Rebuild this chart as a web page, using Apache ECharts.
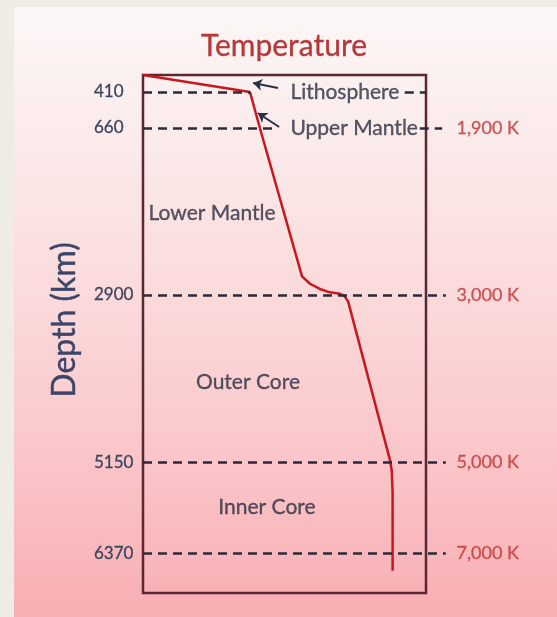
<!DOCTYPE html>
<html>
<head>
<meta charset="utf-8">
<title>Temperature</title>
<script src="https://cdn.jsdelivr.net/npm/echarts@6.0.0/dist/echarts.min.js"></script>
<style>
  html, body { margin: 0; padding: 0; background: #efece6; }
  #chart { width: 557px; height: 617px; }
</style>
</head>
<body>
<div id="chart"></div>
<script>
// temperature curve: relative temperature (0 = left side of the box, 100 = right side) vs depth (km)
const curveTemp = [0, 37.8, 41.3, 56.2, 59.0, 62.5, 66.0, 69.6, 71.2, 72.5, 87.3, 87.9, 88.2, 88.2];
const curveDepth = [0, 410, 660, 2650, 2750, 2820, 2865, 2885, 2915, 2990, 5120, 5260, 5550, 6600];

// layer boundaries (km) and the temperatures written next to them
const boundaryDepths = [410, 660, 2900, 5150, 6370];
const tempLabels = ['1,900 K', '3,000 K', '5,000 K', '7,000 K'];
const tempLabelDepths = [660, 2900, 5150, 6370];

const layerNames = ['Lithosphere', 'Upper Mantle', 'Lower Mantle', 'Outer Core', 'Inner Core'];

// the drawing is schematic: the depth axis is split into three linear bands
const bands = [
    { top: 75, height: 17, min: 0, max: 410 },
    { top: 92, height: 36, min: 410, max: 660 },
    { top: 128, height: 465, min: 660, max: 6900 }
];
const boxLeft = 143;
const boxWidth = 283;
// bands reach past the box so the dashes and temperatures can run outside it
const bandMax = 140;

// where the layer names sit, in chart units [temp, depth]
const layerAnchors = [[51.9, 410], [51.9, 660], [24.4, 1800], [37.1, 4070], [43.8, 5745]];
const layerAlign = ['right', 'right', 'inside', 'inside', 'inside'];

// dashed boundary pieces that are broken by a label
const dashSpans = {
    410: [[0, 38], [92.5, 100]],
    660: [[0, 46], [97.8, 105.7]]
};
const arrows = [
    { band: 0, from: [47.7, 313], to: [38.9, 193] },
    { band: 1, from: [48.1, 653], to: [40.6, 556] }
];

const inkColor = '#2c3042';
const redColor = '#bf3838';
const dashStyle = { color: '#2a2a3a', width: 2.6, type: [9, 6] };

const chart = echarts.init(document.getElementById('chart'));

const bandOf = (d) => bands.findIndex(b => d >= b.min && d < b.max);

const grids = bands.map(b => ({
    left: boxLeft, top: b.top, width: boxWidth * bandMax / 100, height: b.height
}));
grids.push({
    left: boxLeft, top: 75, width: boxWidth, height: 518,
    show: true, borderColor: '#5b2733', borderWidth: 2.5
});

const xAxes = grids.map((g, i) => ({
    type: 'value', gridIndex: i, min: 0, max: i < bands.length ? bandMax : 100, show: false
}));

const yAxes = bands.map((b, i) => {
    const ticks = boundaryDepths.filter(d => bandOf(d) === i);
    return {
        type: 'value', gridIndex: i, min: b.min, max: b.max, inverse: true,
        axisLine: { show: false }, axisTick: { show: false }, splitLine: { show: false },
        axisLabel: {
            show: ticks.length > 0,
            customValues: ticks,
            formatter: (v) => String(v),
            align: 'left',
            margin: 49,
            fontFamily: 'Lato',
            fontSize: 17,
            color: '#3d4460',
            textBorderColor: '#3d4460',
            textBorderWidth: 0.3
        }
    };
});
yAxes.push({ type: 'value', gridIndex: 3, show: false });

const series = bands.map((b, i) => {
    const points = [];
    curveTemp.forEach((t, k) => {
        if (curveDepth[k] >= b.min && curveDepth[k] <= b.max) {
            points.push([t, curveDepth[k]]);
        }
    });

    const lines = [];
    boundaryDepths.filter(d => bandOf(d) === i).forEach(d => {
        (dashSpans[d] || [[0, 107]]).forEach(span => {
            lines.push([
                { coord: [span[0], d], lineStyle: dashStyle },
                { coord: [span[1], d], lineStyle: dashStyle }
            ]);
        });
    });
    arrows.filter(a => a.band === i).forEach(a => {
        const style = { color: '#27304a', width: 2, type: 'solid' };
        lines.push([
            { coord: a.from, symbol: 'none', lineStyle: style },
            { coord: a.to, symbol: 'arrow', symbolSize: [9, 9], lineStyle: style }
        ]);
    });

    return {
        type: 'line', xAxisIndex: i, yAxisIndex: i, data: points,
        symbol: 'none', clip: false, silent: true, z: 3,
        lineStyle: { color: '#c8171e', width: 2.5 },
        markLine: {
            silent: true, symbol: 'none', label: { show: false },
            data: lines
        }
    };
});

// text labels: layer names and temperatures
bands.forEach((b, i) => {
    const items = [];
    layerNames.forEach((name, k) => {
        if (bandOf(layerAnchors[k][1]) === i) {
            items.push({
                value: layerAnchors[k],
                label: { formatter: name, position: layerAlign[k], distance: 0 }
            });
        }
    });
    tempLabels.forEach((txt, k) => {
        if (bandOf(tempLabelDepths[k]) === i) {
            items.push({
                value: [110.6, tempLabelDepths[k]],
                label: {
                    formatter: txt, position: 'right', distance: 0, fontSize: 18,
                    color: redColor, textBorderColor: redColor
                }
            });
        }
    });
    if (!items.length) {
        return;
    }
    series.push({
        type: 'scatter', xAxisIndex: i, yAxisIndex: i, clip: false, silent: true,
        symbolSize: 1, itemStyle: { color: 'transparent' },
        label: {
            show: true, fontFamily: 'Lato', fontSize: 21, color: inkColor,
            textBorderColor: inkColor, textBorderWidth: 0.35
        },
        data: items
    });
});

chart.setOption({
    animation: false,
    title: {
        text: 'Temperature', left: 279, top: 26, textAlign: 'center',
        textStyle: {
            fontFamily: 'Lato', fontSize: 30, fontWeight: 'normal', color: '#b5383a',
            textBorderColor: '#b5383a', textBorderWidth: 0.3
        }
    },
    graphic: [
        {
            type: 'rect', z: -10, silent: true,
            shape: { x: 14, y: 7, width: 543, height: 610 },
            style: {
                fill: new echarts.graphic.LinearGradient(0, 0, 0, 1, [
                    { offset: 0, color: '#fbf7f6' },
                    { offset: 0.25, color: '#fbe9e9' },
                    { offset: 0.5, color: '#fbd8d9' },
                    { offset: 0.75, color: '#fac5c8' },
                    { offset: 1, color: '#f8aeb3' }
                ])
            }
        },
        {
            type: 'text', x: 65, y: 320, rotation: Math.PI / 2, silent: true,
            style: {
                text: 'Depth (km)', font: '32px Lato', fill: '#3a4569',
                stroke: '#3a4569', lineWidth: 0.4,
                align: 'center', verticalAlign: 'middle'
            }
        }
    ],
    grid: grids,
    xAxis: xAxes,
    yAxis: yAxes,
    series: series
});
</script>
</body>
</html>
